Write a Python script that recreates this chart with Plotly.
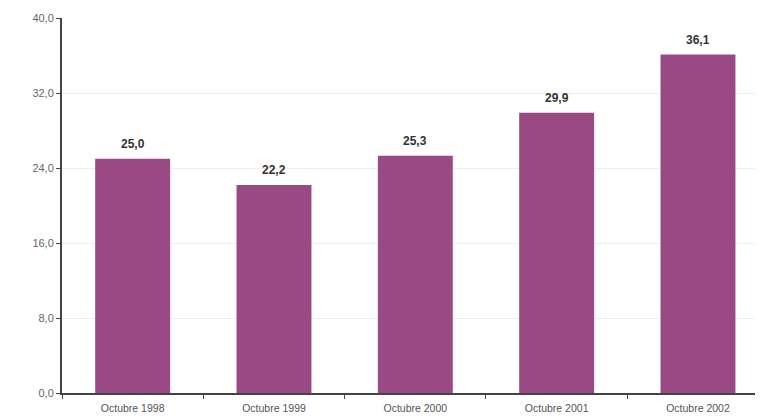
import plotly.graph_objects as go

categories = ["Octubre 1998", "Octubre 1999", "Octubre 2000", "Octubre 2001", "Octubre 2002"]
values = [25.0, 22.2, 25.3, 29.9, 36.1]
y_ticks = [0, 8, 16, 24, 32, 40]
y_tick_labels = ["0,0", "8,0", "16,0", "24,0", "32,0", "40,0"]

labels = [f"{v:.1f}".replace(".", ",") for v in values]

fig = go.Figure(go.Bar(
    x=categories, y=values,
    marker=dict(color="#994a84", line=dict(width=0)),
    width=0.53,
))

for c, v, t in zip(categories, values, labels):
    fig.add_annotation(
        x=c, y=v, text=f"<b>{t}</b>", showarrow=False,
        yanchor="bottom", yshift=6,
        font=dict(family="Liberation Sans, Arial, sans-serif", size=12, color="#333333"),
    )

# page body has an 8px default margin, so the figure is sized to fill the rest
fig.update_layout(
    width=755, height=412,
    margin=dict(l=54, r=0, t=10, b=27),
    paper_bgcolor="white", plot_bgcolor="white",
    showlegend=False,
    font=dict(family="Liberation Sans, Arial, sans-serif", color="#555555"),
)
fig.update_xaxes(
    range=[-0.5, 4.46],
    showline=True, linecolor="#444444", linewidth=2,
    ticks="outside", tickson="boundaries", ticklen=4, tickcolor="#444444",
    tickfont=dict(size=10.5, color="#555555"), ticklabelstandoff=4,
    showgrid=False, automargin=False,
)
fig.update_yaxes(
    range=[0, 40],
    tickvals=y_ticks, ticktext=y_tick_labels,
    showline=True, linecolor="#444444", linewidth=2,
    ticks="outside", ticklen=4, tickcolor="#444444",
    tickfont=dict(size=11, color="#666666"),
    showgrid=True, gridcolor="#eeeeee", gridwidth=1,
    zeroline=False, automargin=False,
)

fig.write_html("out.html")
